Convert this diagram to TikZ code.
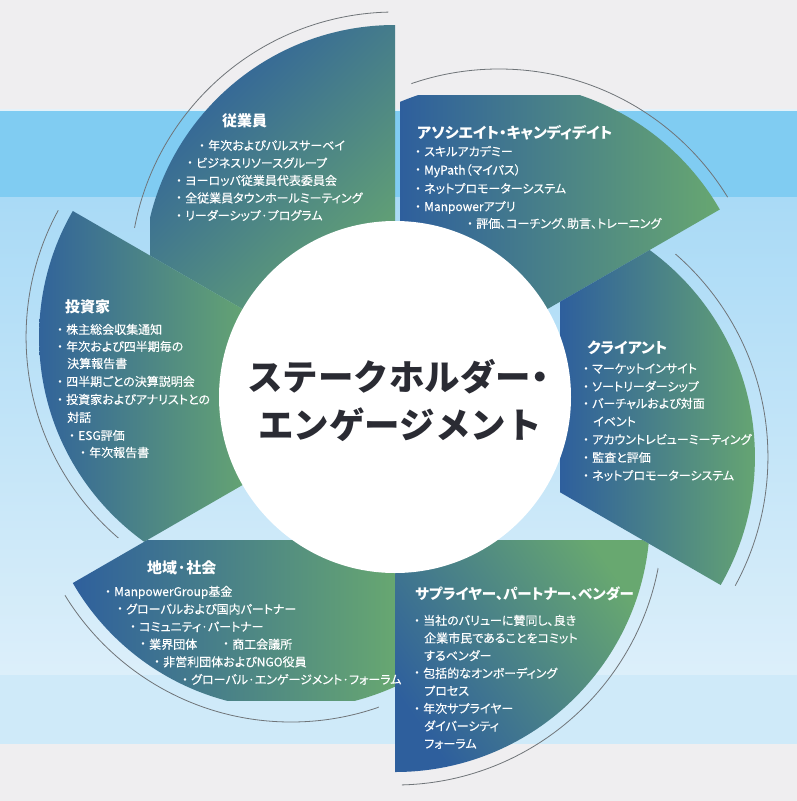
\documentclass[tikz,border=0pt]{standalone}
\usepackage{fontspec}
\newfontfamily\jp[RawFeature=+palt]{Noto Sans CJK JP}
\newfontfamily\jpm[RawFeature=+palt,FakeBold=0.35]{Noto Sans CJK JP}
\newfontfamily\jpfull{Noto Sans CJK JP}
\definecolor{bggray}{HTML}{EFEEF0}
\definecolor{sky}{HTML}{80CCF2}
\definecolor{skyline}{HTML}{E4F2FA}
\definecolor{lighttop}{HTML}{A9DAF6}
\definecolor{lightbot}{HTML}{DCEFFA}
\definecolor{lowband}{HTML}{CFEAF9}
\definecolor{bladeblue}{HTML}{2E5F9D}
\definecolor{bladegreen}{HTML}{68A870}
\definecolor{arcgray}{HTML}{6F7478}
\definecolor{centertext}{HTML}{2A2B33}
\newcommand\bul{{\jpfull ・}}
\newcommand\petal[8]{%
 \begin{scope}
  \clip[shift={(395,397)}] (0,0) -- ({-#1}:700) -- ({-(#1+60)}:700) -- cycle;
  \clip[shift={(395,397)}] ({-#1}:#3) circle ({#2-#3});
  \shade[top color=bladeblue, bottom color=bladegreen, shading angle=#4] (#5,#6) rectangle (#7,#8);
 \end{scope}}
\newcommand\grayarc[3]{%
 \begin{scope}
  \clip[shift={(395,397)}] (0,0) -- ({-(#1+1)}:700) -- ({-(#1+57)}:700) -- cycle;
  \draw[grayline, shift={(395,397)}] ({-#1}:#3) circle ({#2-#3+13});
 \end{scope}}
\newcommand\tline[4]{\node[txt, anchor=base west] (#1) at (#2,#3) {#4};}
\tikzset{
 txt/.style={font=\jpm\fontsize{12}{14}\selectfont, text=white, inner sep=0pt},
 ttl/.style={font=\jp\bfseries\fontsize{15}{18}\selectfont, text=white, inner sep=0pt, anchor=base west},
 ctr/.style={font=\jpfull\bfseries\fontsize{35.5}{40}\selectfont, text=centertext, inner sep=0pt, anchor=base},
 grayline/.style={draw=arcgray, line width=0.8pt},
}
\begin{document}
\begin{tikzpicture}[x=1pt,y=-1pt]
\useasboundingbox (0,0) rectangle (797,801);
% background
\fill[bggray] (0,0) rectangle (797,801);
\fill[sky] (0,110) rectangle (797,197);
\fill[skyline] (0,109) rectangle (797,111);
\shade[top color=lighttop, bottom color=lightbot] (0,197) rectangle (797,675);
\fill[lowband] (0,675) rectangle (797,744);
% gray arcs
\grayarc{30}{375}{120}
\grayarc{90}{372}{120}
\grayarc{150}{372}{120}
\grayarc{210}{372}{120}
\grayarc{270}{375}{120}
\grayarc{330}{376}{120}
% blades
\petal{30}{375}{120}{90}{400}{95}{725}{400}
\petal{90}{372}{120}{45}{150}{20}{420}{330}
\petal{150}{372}{120}{90}{25}{200}{260}{560}
\petal{210}{372}{120}{90}{70}{540}{400}{700}
\petal{270}{375}{120}{125}{395}{540}{650}{775}
\petal{330}{376}{120}{90}{560}{250}{765}{585}
% centre
\fill[white] (395,397) circle (176);
\node[ctr] (c1) at (398,390) {ステークホルダー{\jp ・}};
\node[ctr] (c2) at (400,438) {エンゲージメント};
% 従業員
\node[ttl] (t1) at (222,126) {従業員};
\tline{a1}{196}{150}{\bul 年次およびパルスサーベイ}
\tline{a2}{184}{167.5}{\bul ビジネスリソースグループ}
\tline{a3}{173}{185}{\bul ヨーロッパ従業員代表委員会}
\tline{a4}{173}{202.5}{\bul 全従業員タウンホールミーティング}
\tline{a5}{173}{220}{\bul リーダーシップ·プログラム}
% アソシエイト
\node[ttl] (t2) at (417,138) {アソシエイト・キャンディデイト};
\tline{b1}{412}{156}{\bul スキルアカデミー}
\tline{b2}{412}{174.5}{\bul MyPath（マイパス）}
\tline{b3}{412}{193}{\bul ネットプロモーターシステム}
\tline{b4}{412}{211}{\bul Manpowerアプリ}
\tline{b5}{464}{228}{\bul 評価、コーチング、助言、トレーニング}
% クライアント
\node[ttl] (t3) at (587,353) {クライアント};
\tline{c3}{580}{373}{\bul マーケットインサイト}
\tline{c4}{580}{391}{\bul ソートリーダーシップ}
\tline{c5}{580}{408}{\bul バーチャルおよび対面}
\tline{c6}{593}{426}{イベント}
\tline{c7}{580}{444}{\bul アカウントレビューミーティング}
\tline{c8}{580}{462}{\bul 監査と評価}
\tline{c9}{580}{480}{\bul ネットプロモーターシステム}
% サプライヤー
\node[ttl, font=\jp\bfseries\fontsize{14.5}{18}\selectfont] (t4) at (415,599) {サプライヤー、パートナー、ベンダー};
\tline{d1}{411}{625}{\bul 当社のバリューに賛同し、良き}
\tline{d2}{424}{642.6}{企業市民であることをコミット}
\tline{d3}{424}{660.2}{するベンダー}
\tline{d4}{411}{677.8}{\bul 包括的なオンボーディング}
\tline{d5}{424}{695.4}{プロセス}
\tline{d6}{411}{713}{\bul 年次サプライヤー}
\tline{d7}{424}{730.6}{ダイバーシティ}
\tline{d8}{424}{748.2}{フォーラム}
% 地域・社会
\node[ttl] (t5) at (147,573) {地域·社会};
\tline{e1}{102}{596}{\bul ManpowerGroup基金}
\tline{e2}{114}{613.6}{\bul グローバルおよび国内パートナー}
\tline{e3}{127}{631.2}{\bul コミュニティ·パートナー}
\tline{e4}{137}{648.8}{\bul 業界団体}
\tline{e5}{220}{648.8}{\bul 商工会議所}
\tline{e6}{151}{666.4}{\bul 非営利団体およびNGO役員}
\tline{e7}{179}{684}{\bul グローバル·エンゲージメント·フォーラム}
% 投資家
\node[ttl] (t6) at (65,312) {投資家};
\tline{f1}{54}{334}{\bul 株主総会収集通知}
\tline{f2}{54}{351}{\bul 年次および四半期毎の}
\tline{f3}{67}{368}{決算報告書}
\tline{f4}{54}{386}{\bul 四半期ごとの決算説明会}
\tline{f5}{54}{404}{\bul 投資家およびアナリストとの}
\tline{f6}{67}{422}{対話}
\tline{f7}{66}{440}{\bul ESG評価}
\tline{f8}{77}{457}{\bul 年次報告書}
\end{tikzpicture}
\end{document}
